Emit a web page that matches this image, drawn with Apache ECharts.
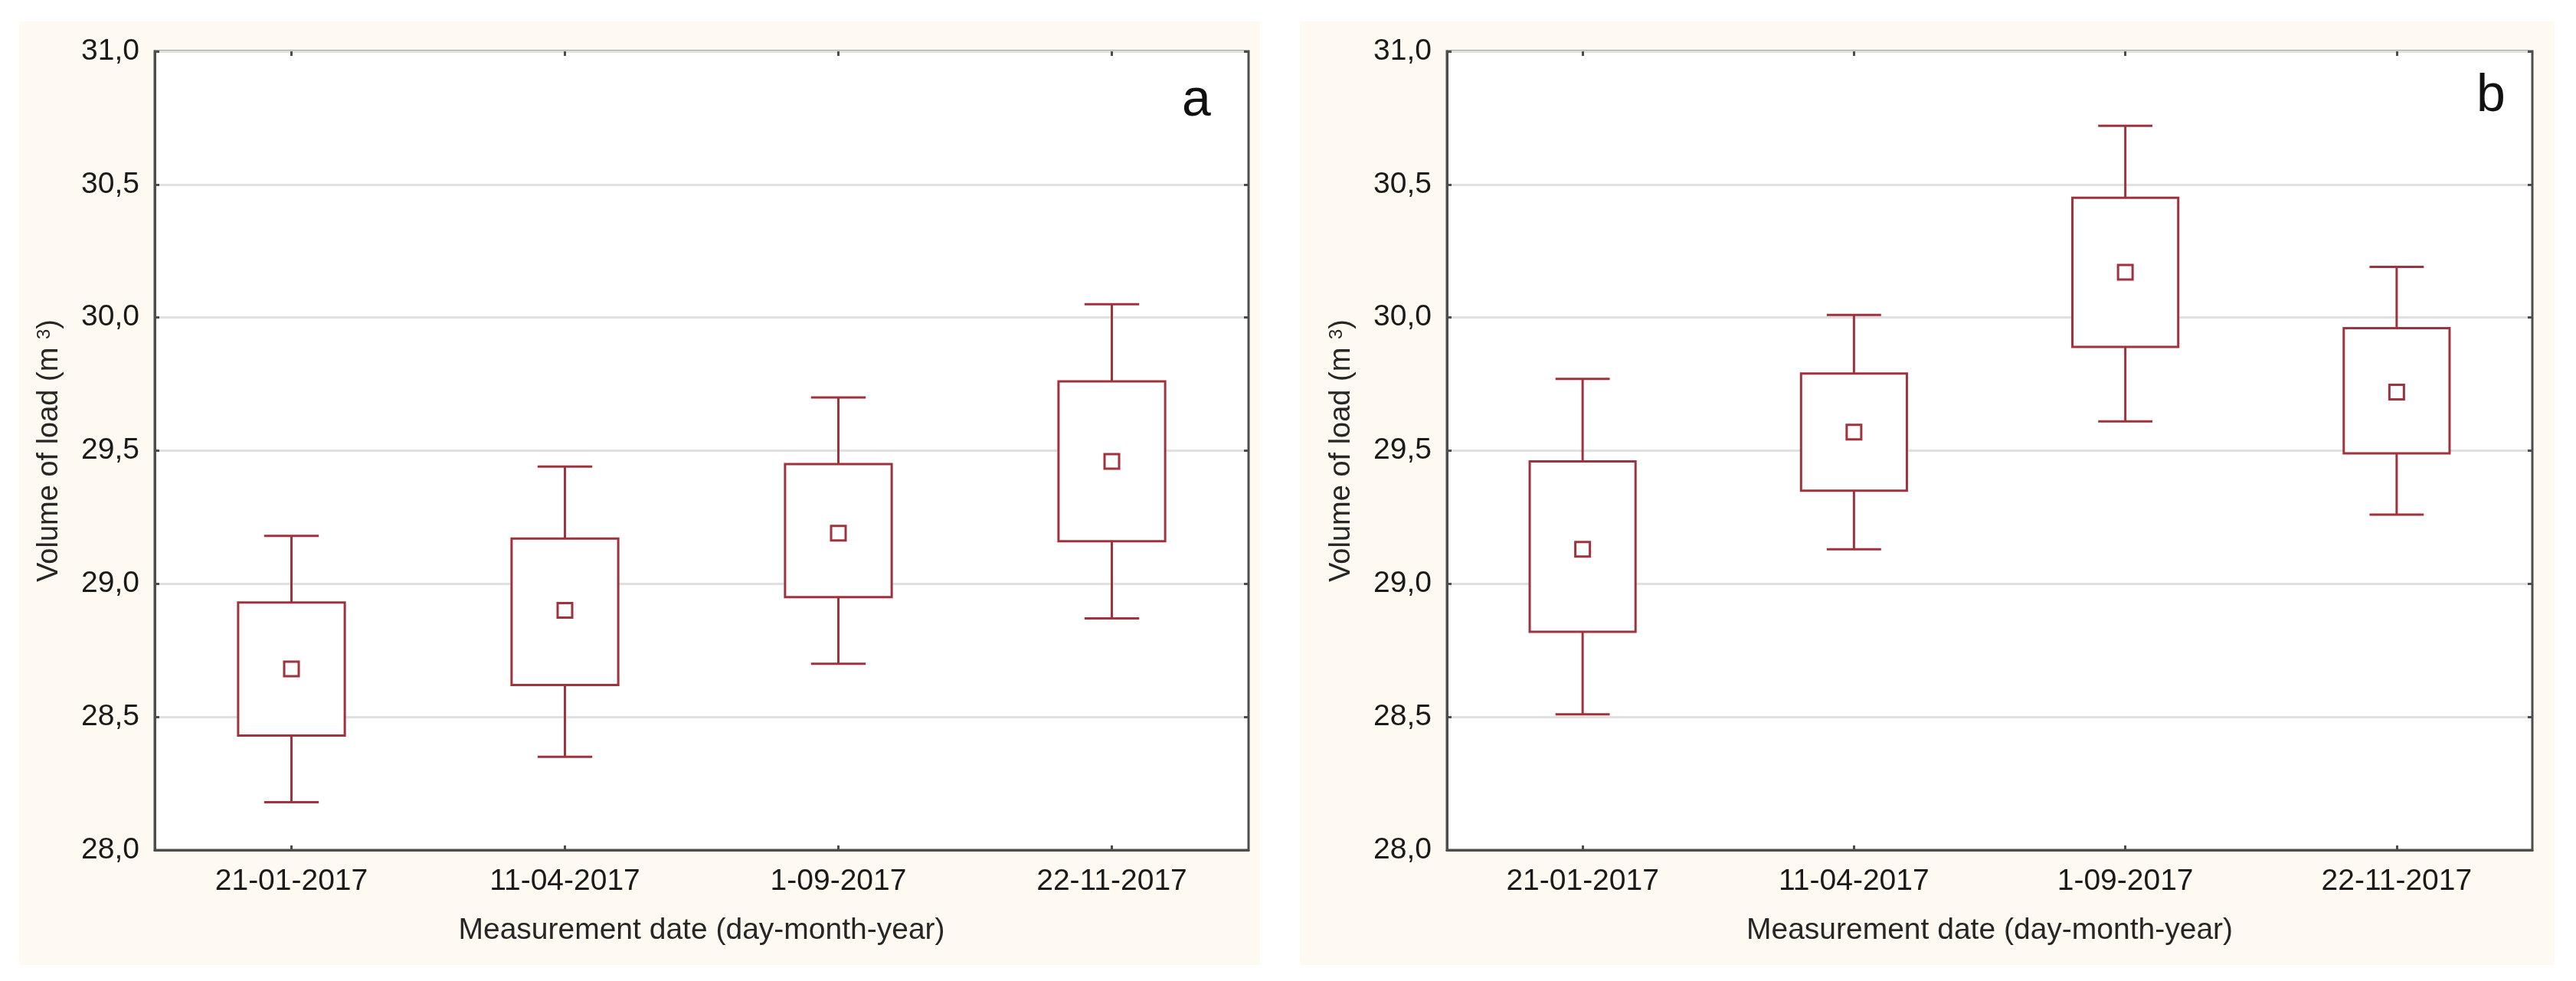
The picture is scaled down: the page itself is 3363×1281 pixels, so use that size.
<!DOCTYPE html>
<html>
<head>
<meta charset="utf-8">
<title>Volume of load</title>
<script src="https://cdn.jsdelivr.net/npm/echarts@6/dist/echarts.min.js"></script>
<style>
  html, body { margin: 0; padding: 0; background: #ffffff; }
  #chart { width: 3363px; height: 1281px; }
</style>
</head>
<body>
<div id="chart"></div>
<script>
// measurement dates (x categories) and y ticks
var dates = ['21-01-2017', '11-04-2017', '1-09-2017', '22-11-2017'];
var yTicks = [28.0, 28.5, 29.0, 29.5, 30.0, 30.5, 31.0];

// panel a
var aWhiskerLow  = [28.18, 28.35, 28.70, 28.87];
var aBoxLow      = [28.43, 28.62, 28.95, 29.16];
var aMean        = [28.68, 28.90, 29.19, 29.46];
var aBoxHigh     = [28.93, 29.17, 29.45, 29.76];
var aWhiskerHigh = [29.18, 29.44, 29.70, 30.05];

// panel b
var bWhiskerLow  = [28.51, 29.13, 29.61, 29.26];
var bBoxLow      = [28.82, 29.35, 29.89, 29.49];
var bMean        = [29.13, 29.57, 30.17, 29.72];
var bBoxHigh     = [29.46, 29.79, 30.45, 29.96];
var bWhiskerHigh = [29.77, 30.01, 30.72, 30.19];

var RED = '#a0323c';
var AXIS = '#4d4d4d';
var TEXT = '#1a1a1a';
var FONT = 'Liberation Sans, Arial, sans-serif';

function rows(wl, bl, m, bh, wh) {
    return dates.map(function (d, i) {
        return [i, wl[i], bl[i], m[i], bh[i], wh[i]];
    });
}

function lineStyle() {
    return { stroke: RED, lineWidth: 3, fill: null };
}

// whiskers with caps, box, hollow square for the mean
function renderBox(params, api) {
    var i = api.value(0);
    var low = api.coord([i, api.value(1)]);
    var q1 = api.coord([i, api.value(2)]);
    var mean = api.coord([i, api.value(3)]);
    var q3 = api.coord([i, api.value(4)]);
    var high = api.coord([i, api.value(5)]);
    var band = api.size([1, 0])[0];
    var cx = q1[0];
    var boxW = band * 0.39;
    var capW = band * 0.2;
    var mk = 19;
    return {
        type: 'group',
        children: [
            { type: 'line', shape: { x1: cx, y1: q3[1], x2: cx, y2: high[1] }, style: lineStyle() },
            { type: 'line', shape: { x1: cx - capW / 2, y1: high[1], x2: cx + capW / 2, y2: high[1] }, style: lineStyle() },
            { type: 'line', shape: { x1: cx, y1: q1[1], x2: cx, y2: low[1] }, style: lineStyle() },
            { type: 'line', shape: { x1: cx - capW / 2, y1: low[1], x2: cx + capW / 2, y2: low[1] }, style: lineStyle() },
            { type: 'rect', shape: { x: cx - boxW / 2, y: q3[1], width: boxW, height: q1[1] - q3[1] },
              style: { stroke: RED, lineWidth: 3, fill: '#ffffff' } },
            { type: 'rect', shape: { x: cx - mk / 2, y: mean[1] - mk / 2, width: mk, height: mk },
              style: { stroke: RED, lineWidth: 3, fill: '#ffffff' } }
        ]
    };
}

function gridOpt(left, width) {
    return {
        left: left, top: 67, width: width, height: 1043,
        show: true, backgroundColor: '#ffffff',
        borderColor: AXIS, borderWidth: 3
    };
}

function bottomAxis(g) {
    return {
        type: 'category', gridIndex: g, data: dates, position: 'bottom',
        axisLine: { show: true, lineStyle: { color: AXIS, width: 3 } },
        axisTick: { show: true, inside: true, alignWithLabel: true, length: 6, lineStyle: { color: AXIS, width: 3 } },
        axisLabel: { color: TEXT, fontSize: 39, fontFamily: FONT, margin: 22 },
        name: 'Measurement date (day-month-year)',
        nameLocation: 'middle', nameGap: 86,
        nameTextStyle: { color: '#262626', fontSize: 39, fontFamily: FONT },
        splitLine: { show: false }
    };
}

function topAxis(g) {
    return {
        type: 'category', gridIndex: g, data: dates, position: 'top',
        axisLine: { show: false },
        axisTick: { show: true, inside: true, alignWithLabel: true, length: 6, lineStyle: { color: AXIS, width: 3 } },
        axisLabel: { show: false },
        splitLine: { show: false }
    };
}

function leftAxis(g) {
    return {
        type: 'value', gridIndex: g, position: 'left',
        min: yTicks[0], max: yTicks[yTicks.length - 1], interval: yTicks[1] - yTicks[0],
        axisLine: { show: true, lineStyle: { color: AXIS, width: 3 } },
        axisTick: { show: true, inside: true, length: 6, lineStyle: { color: AXIS, width: 3 } },
        axisLabel: {
            color: TEXT, fontSize: 39, fontFamily: FONT, margin: 20,
            formatter: function (v) { return v.toFixed(1).replace('.', ','); }
        },
        splitLine: { show: true, lineStyle: { color: '#e0e0e0', width: 3 } },
        name: 'Volume of load (m {sup|3})',
        nameLocation: 'middle', nameRotate: 90, nameGap: 118,
        nameTextStyle: {
            color: '#262626', fontSize: 38, fontFamily: FONT,
            rich: { sup: { fontSize: 24, fontFamily: FONT, color: '#262626', verticalAlign: 'top', lineHeight: 24 } }
        }
    };
}

function rightAxis(g) {
    return {
        type: 'value', gridIndex: g, position: 'right',
        min: yTicks[0], max: yTicks[yTicks.length - 1], interval: yTicks[1] - yTicks[0],
        axisLine: { show: false },
        axisTick: { show: true, inside: true, length: 6, lineStyle: { color: AXIS, width: 3 } },
        axisLabel: { show: false },
        splitLine: { show: false }
    };
}

var chart = echarts.init(document.getElementById('chart'));

var option = {
    backgroundColor: '#ffffff',
    animation: false,
    graphic: [
        { type: 'rect', shape: { x: 25, y: 28, width: 1620, height: 1232 }, style: { fill: '#fefaf1' }, z: -10 },
        { type: 'rect', shape: { x: 1697, y: 28, width: 1638, height: 1232 }, style: { fill: '#fefaf1' }, z: -10 },
        { type: 'text', x: 1562, y: 132, z: 100,
          style: { text: 'a', fontSize: 68, fontFamily: FONT, fill: '#111', align: 'center', verticalAlign: 'middle' } },
        { type: 'text', x: 3252, y: 126, z: 100,
          style: { text: 'b', fontSize: 68, fontFamily: FONT, fill: '#111', align: 'center', verticalAlign: 'middle' } }
    ],
    grid: [gridOpt(202, 1428), gridOpt(1889, 1417)],
    xAxis: [bottomAxis(0), topAxis(0), bottomAxis(1), topAxis(1)],
    yAxis: [leftAxis(0), rightAxis(0), leftAxis(1), rightAxis(1)],
    series: [
        {
            type: 'custom', name: 'a', xAxisIndex: 0, yAxisIndex: 0,
            renderItem: renderBox,
            encode: { x: 0, y: [1, 2, 3, 4, 5] },
            data: rows(aWhiskerLow, aBoxLow, aMean, aBoxHigh, aWhiskerHigh),
            z: 10
        },
        {
            type: 'custom', name: 'b', xAxisIndex: 2, yAxisIndex: 2,
            renderItem: renderBox,
            encode: { x: 0, y: [1, 2, 3, 4, 5] },
            data: rows(bWhiskerLow, bBoxLow, bMean, bBoxHigh, bWhiskerHigh),
            z: 10
        }
    ]
};

chart.setOption(option);
</script>
</body>
</html>
